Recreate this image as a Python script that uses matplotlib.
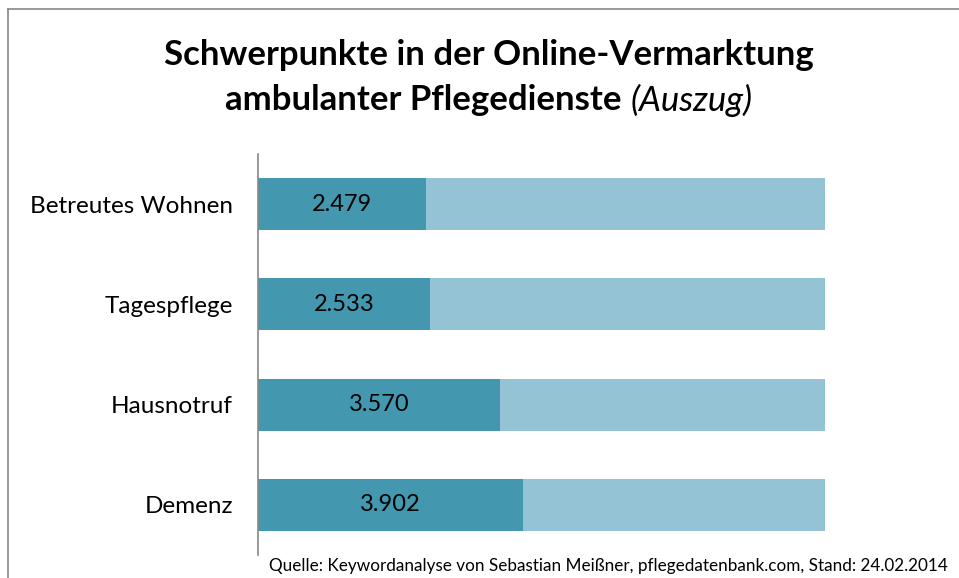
import matplotlib
matplotlib.use("Agg")
import matplotlib.pyplot as plt
from matplotlib.lines import Line2D

plt.rcParams["font.family"] = ["Lato", "DejaVu Sans"]

# data (top to bottom)
categories = ["Betreutes Wohnen", "Tagespflege", "Hausnotruf", "Demenz"]
values = [2.479, 2.533, 3.570, 3.902]
value_labels = ["2.479", "2.533", "3.570", "3.902"]
bar_total = 8.35  # light bars all end at the same length

DARK = "#4398b0"
LIGHT = "#93c3d5"

fig = plt.figure(figsize=(9.59, 5.78), dpi=100)
ax = fig.add_axes([258 / 959, 1 - 555 / 578, (825 - 258) / 959, (555 - 154) / 578])

ypos = list(range(len(categories)))
remainders = [bar_total - v for v in values]
ax.barh(ypos, values, height=0.52, color=DARK, linewidth=0)
ax.barh(ypos, remainders, left=values, height=0.52, color=LIGHT, linewidth=0)

for y, v, lab in zip(ypos, values, value_labels):
    ax.text(v / 2, y, lab, ha="center", va="center", fontsize=17, color="black")

ax.set_yticks(ypos)
ax.set_yticklabels(categories, fontsize=17.5)
ax.tick_params(axis="y", length=0, pad=18)
ax.set_ylim(len(categories) - 0.5, -0.5)
ax.set_xlim(0, bar_total)
ax.set_xticks([])
for side in ["top", "right", "bottom"]:
    ax.spines[side].set_visible(False)
ax.spines["left"].set_color("#888888")
ax.spines["left"].set_linewidth(1.2)

# title, second line mixes bold and italic
fig.text(489 / 959, 1 - 55 / 578, "Schwerpunkte in der Online-Vermarktung",
         ha="center", va="center", fontsize=25, fontweight="bold")
t_bold = fig.text(0, 1 - 100 / 578, "ambulanter Pflegedienste ",
                  ha="left", va="center", fontsize=25, fontweight="bold")
t_ital = fig.text(0, 1 - 100 / 578, "(Auszug)",
                  ha="left", va="center", fontsize=25, fontstyle="italic")
fig.canvas.draw()
r = fig.canvas.get_renderer()
w_bold = t_bold.get_window_extent(r).width / fig.bbox.width
w_ital = t_ital.get_window_extent(r).width / fig.bbox.width
x0 = 489 / 959 - (w_bold + w_ital) / 2
t_bold.set_x(x0)
t_ital.set_x(x0 + w_bold)

fig.text(948 / 959, 1 - 566 / 578,
         "Quelle: Keywordanalyse von Sebastian Meißner, pflegedatenbank.com, Stand: 24.02.2014",
         ha="right", va="center", fontsize=12.3)

# chart frame (cropped on right and bottom)
fig.add_artist(Line2D([8 / 959, 8 / 959], [0, 1 - 9 / 578], transform=fig.transFigure,
                      color="#888888", linewidth=1.2))
fig.add_artist(Line2D([8 / 959, 1], [1 - 9 / 578, 1 - 9 / 578], transform=fig.transFigure,
                      color="#888888", linewidth=1.2))

fig.savefig("out.png", dpi=100)
